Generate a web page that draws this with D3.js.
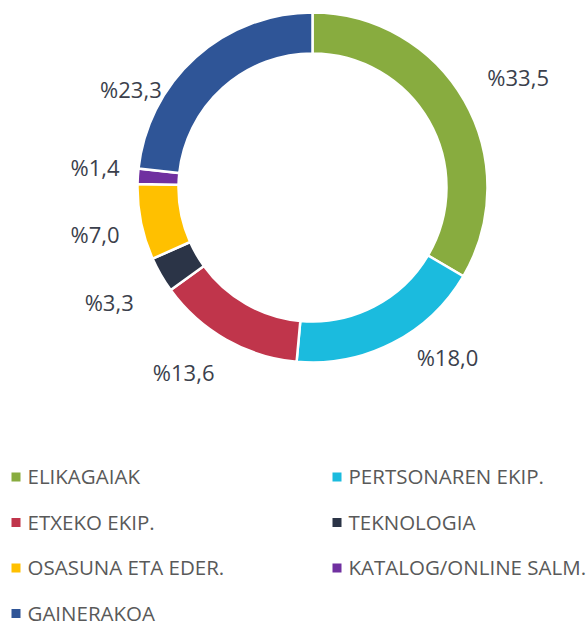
<!DOCTYPE html>
<html>
<head>
<meta charset="utf-8">
<script src="https://cdn.jsdelivr.net/npm/d3@7"></script>
<style>
  html, body { margin: 0; padding: 0; background: #fff; }
  svg { display: block; font-family: "Open Sans", "Noto Sans", sans-serif; }
</style>
</head>
<body>
<div id="chart"></div>
<script>
// datuak
const categories = ["ELIKAGAIAK", "PERTSONAREN EKIP.", "ETXEKO EKIP.", "TEKNOLOGIA",
                    "OSASUNA ETA EDER.", "KATALOG/ONLINE SALM.", "GAINERAKOA"];
const values = [33.5, 18.0, 13.6, 3.3, 7.0, 1.4, 23.3];
const colors = ["#88ac3f", "#1bbbde", "#c0354b", "#2b3447", "#ffc000", "#7030a0", "#2f5597"];
// etiketen desplazamendua (px) zentroidearekiko
const labelNudge = [[6, 5], [30, -34], [-15, -14], [-4, 1], [8, 2], [12, -5], [-28, 74]];

const width = 588, height = 622;
const cx = 312.5, cy = 187.5;
const outerR = 175, innerR = 134;

const svg = d3.select("#chart").append("svg")
    .attr("width", width)
    .attr("height", height);

const pie = d3.pie().sort(null).value(d => d.value);
const arcs = pie(values.map((v, i) => ({ value: v, i })));

const arc = d3.arc().innerRadius(innerR).outerRadius(outerR);
const labelArc = d3.arc().innerRadius(230).outerRadius(230);

const g = svg.append("g").attr("transform", `translate(${cx},${cy})`);

g.selectAll("path")
    .data(arcs)
    .enter()
    .append("path")
    .attr("d", arc)
    .attr("fill", d => colors[d.data.i])
    .attr("stroke", "#fff")
    .attr("stroke-width", 2.5)
    .attr("stroke-linejoin", "miter");

const fmt = v => "%" + v.toFixed(1).replace(".", ",");

g.selectAll("text.lbl")
    .data(arcs)
    .enter()
    .append("text")
    .attr("class", "lbl")
    .attr("x", d => labelArc.centroid(d)[0] + labelNudge[d.data.i][0])
    .attr("y", d => labelArc.centroid(d)[1] + labelNudge[d.data.i][1])
    .attr("dy", "0.36em")
    .attr("text-anchor", "middle")
    .attr("font-size", 22)
    .attr("fill", "#3b3f4c")
    .text(d => fmt(d.data.value));

// legenda
const legend = svg.append("g");
const item = legend.selectAll("g")
    .data(categories)
    .enter()
    .append("g")
    .attr("transform", (d, i) => `translate(${i % 2 ? 332.5 : 11.5},${477 + Math.floor(i / 2) * 45.5})`);

item.append("rect")
    .attr("x", 0)
    .attr("y", -4.5)
    .attr("width", 9)
    .attr("height", 9)
    .attr("fill", (d, i) => colors[i]);

item.append("text")
    .attr("x", 16)
    .attr("dy", "0.36em")
    .attr("font-size", 20.5)
    .attr("fill", "#595959")
    .text(d => d);
</script>
</body>
</html>
